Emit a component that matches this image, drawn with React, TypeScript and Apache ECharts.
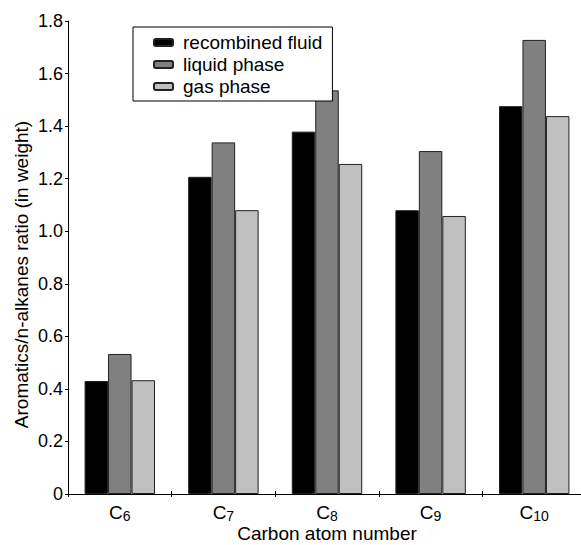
import React, { useEffect, useRef } from "react";
import * as echarts from "echarts";

const categories = ["6", "7", "8", "9", "10"];
const seriesNames = ["recombined fluid", "liquid phase", "gas phase"];
const recombined = [0.43, 1.207, 1.379, 1.08, 1.476];
const liquid = [0.533, 1.338, 1.536, 1.305, 1.728];
const gas = [0.433, 1.08, 1.256, 1.058, 1.438];
const colors = ["#000000", "#808080", "#c0c0c0"];

const FONT = "'Liberation Sans', Arial, Helvetica, sans-serif";

export default function App() {
  const ref = useRef<HTMLDivElement>(null);
  useEffect(() => {
    if (!ref.current) return;
    const chart = echarts.init(ref.current, null, { renderer: "svg" });
    const values = [recombined, liquid, gas];
    chart.setOption({
      animation: false,
      backgroundColor: "#ffffff",
      textStyle: { fontFamily: FONT, color: "#000" },
      grid: { left: 68, right: -5, top: 21, bottom: 51, containLabel: false, outerBoundsMode: "none" },
      legend: {
        orient: "vertical",
        left: 133,
        top: 27,
        padding: [6, 10, 5, 20],
        itemWidth: 19,
        itemHeight: 7,
        itemGap: 3,
        borderColor: "#000",
        borderWidth: 1,
        backgroundColor: "#fff",
        textStyle: { fontSize: 19, color: "#000", fontFamily: FONT, padding: [0, 0, 0, 5] },
        data: seriesNames,
      },
      xAxis: [
        {
          type: "category",
          data: categories,
          name: "Carbon atom number",
          nameLocation: "middle",
          nameGap: 30,
          nameMoveOverlap: false,
          nameTextStyle: { fontSize: 19, lineHeight: 19, color: "#000", fontFamily: FONT },
          axisLine: { lineStyle: { color: "#000", width: 1 } },
          axisTick: { show: true, length: 3, lineStyle: { color: "#000" } },
          axisLabel: {
            margin: 9,
            formatter: (v: string) => `{c|C}{s|${v}}`,
            rich: {
              c: { fontSize: 19, lineHeight: 19, color: "#000", fontFamily: FONT },
              s: { fontSize: 14, lineHeight: 13, color: "#000", fontFamily: FONT, padding: [6, 0, 0, 0] },
            },
          },
        },
        {
          type: "category",
          data: categories,
          position: "bottom",
          axisLine: { show: false },
          axisTick: { show: true, inside: true, length: 3, lineStyle: { color: "#000" } },
          axisLabel: { show: false },
        },
      ],
      yAxis: {
        type: "value",
        min: 0,
        max: 1.8,
        interval: 0.2,
        name: "Aromatics/n-alkanes ratio (in weight)",
        nameLocation: "middle",
        nameGap: 37,
        nameMoveOverlap: false,
        nameTextStyle: { fontSize: 19, color: "#000", fontFamily: FONT, padding: [0, 34, 0, 0] },
        axisLine: { show: true, lineStyle: { color: "#000", width: 1 } },
        axisTick: { show: true, length: 3, lineStyle: { color: "#000" } },
        splitLine: { show: false },
        axisLabel: {
          fontSize: 18,
          color: "#000",
          fontFamily: FONT,
          margin: 5,
          formatter: (v: number) => (v === 0 ? "0" : v.toFixed(1)),
        },
      },
      series: seriesNames.map((name, i) => ({
        name,
        type: "bar",
        data: values[i],
        barGap: "0%",
        barCategoryGap: "32%",
        itemStyle: { color: colors[i], borderColor: "#222", borderWidth: 1 },
      })),
    });
    return () => chart.dispose();
  }, []);
  return (
    <div
      ref={ref}
      style={{ position: "fixed", left: 0, top: 0, width: 581, height: 545, background: "#fff" }}
    />
  );
}
